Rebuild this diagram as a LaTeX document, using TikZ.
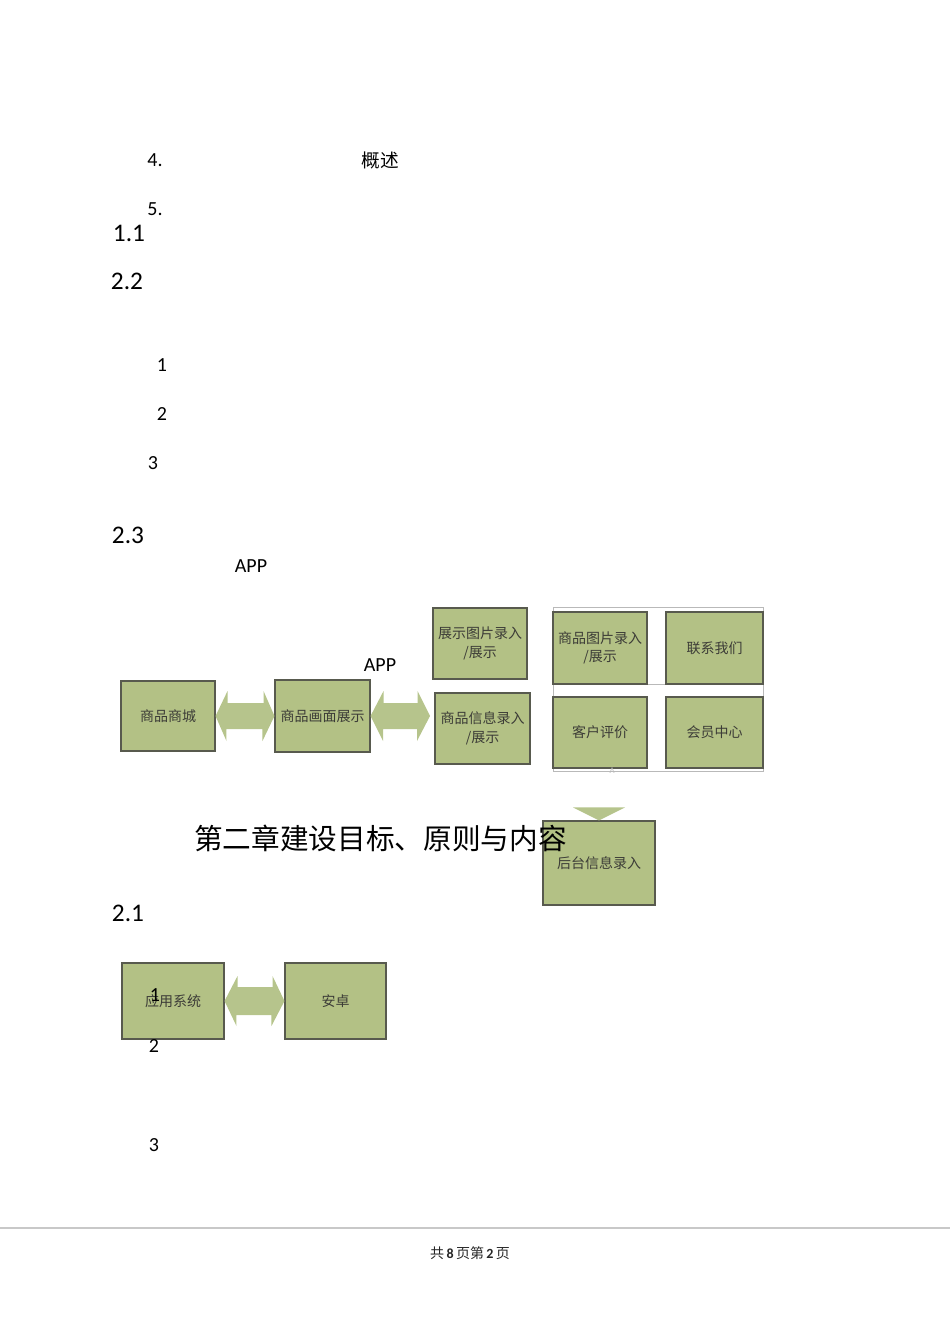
\documentclass[tikz,border=0pt]{standalone}
\usepackage{fontspec}
\setmainfont{Carlito}
\newfontfamily\cjk{Noto Sans CJK SC}
\definecolor{boxgreen}{RGB}{179,193,133}
\definecolor{arrgreen}{RGB}{182,196,140}
\definecolor{boxline}{RGB}{88,90,78}
\definecolor{boxtext}{RGB}{60,60,55}
\definecolor{framegray}{RGB}{185,185,185}
\definecolor{footgray}{RGB}{200,200,200}
\tikzset{
  gbox/.style={draw=boxline, line width=0.8pt, fill=boxgreen, inner sep=0pt, align=center,
    text=boxtext, font=\cjk\fontsize{10.5}{14}\selectfont},
  arr/.style={fill=arrgreen, draw=none},
  small/.style={inner sep=0pt, font=\fontsize{15}{17}\selectfont},
  sec/.style={inner sep=0pt, font=\fontsize{19}{22}\selectfont},
}
\begin{document}
\begin{tikzpicture}[x=0.75pt,y=-0.75pt]
\useasboundingbox (0,0) rectangle (950,1344);
% top text
\node[small] (t4) at (155,160) {4.};
\node[small, font=\cjk\fontsize{14}{16}\selectfont] (tgs) at (380,160) {概述};
\node[small] (t5) at (155,209) {5.};
\node[sec] (s11) at (129,233) {1.1};
\node[sec] (s22) at (127,281) {2.2};
\node[small] (n1) at (162,365) {1};
\node[small] (n2) at (162,414) {2};
\node[small] (n3) at (153,463) {3};
\node[sec] (s23) at (128,535) {2.3};
\node[small] (app1) at (251,566) {APP};
\node[small] (app2) at (380,665) {APP};

% first diagram
\node[gbox, minimum width=70.5pt, minimum height=52.5pt] (mall) at (168,716) {商品商城};
\node[gbox, minimum width=71.25pt, minimum height=54pt] (disp) at (322.5,716) {商品画面展示};
\node[gbox, minimum width=70.5pt, minimum height=53.25pt] (imgin) at (480,643.5) {展示图片录入\\/展示};
\node[gbox, minimum width=71.25pt, minimum height=53.25pt] (infoin) at (482.5,728.5) {商品信息录入\\/展示};

\fill[arr] (mall.east) -- ++(12,-25) -- ++(0,12) -- ++(36,0) -- ++(0,-12) -- (disp.west)
  -- ++(-12,25) -- ++(0,-12) -- ++(-36,0) -- ++(0,12) -- cycle;
\coordinate (a2r) at (430,716);
\fill[arr] (disp.east) -- ++(13,-25) -- ++(0,12) -- ++(34,0) -- ++(0,-12) -- (a2r)
  -- ++(-13,25) -- ++(0,-12) -- ++(-34,0) -- ++(0,12) -- cycle;

% frame with four boxes
\node[draw=framegray, line width=0.6pt, minimum width=157.5pt, minimum height=123pt, inner sep=0pt] (frame) at (658,689) {};
\draw[framegray, line width=0.6pt] (553,684) -- (763,684);
\node[gbox, minimum width=70.5pt, minimum height=54pt] (gimg) at (600,648) {商品图片录入\\/展示};
\node[gbox, minimum width=72.75pt, minimum height=54pt] (contact) at (714.5,648) {联系我们};
\node[gbox, minimum width=70.5pt, minimum height=53.25pt] (review) at (600,732.5) {客户评价};
\node[gbox, minimum width=72.75pt, minimum height=53.25pt] (member) at (714.5,732.5) {会员中心};
\node[inner sep=0pt, text=framegray, font=\fontsize{6.5}{7}\selectfont] (smallA) at (612,771) {A};

% backend box
\node[gbox, minimum width=84pt, minimum height=63pt] (backend) at (599,863) {后台信息录入};
\fill[arr] (backend.north) -- ++(-26,-13) -- ++(52,0) -- cycle;

% heading
\node[inner sep=0pt, anchor=west, font=\cjk\fontsize{21.5}{24}\selectfont] (head) at (194,838) {第二章建设目标、原则与内容};

\node[sec] (s21) at (128,913) {2.1};

% second diagram
\node[gbox, minimum width=76.5pt, minimum height=57pt] (appsys) at (173,1001) {应用系统};
\node[gbox, minimum width=75.75pt, minimum height=57pt] (android) at (335.5,1001) {安卓};
\fill[arr] (appsys.east) -- ++(13,-25) -- ++(0,11) -- ++(35,0) -- ++(0,-11) -- (android.west)
  -- ++(-13,25) -- ++(0,-11) -- ++(-35,0) -- ++(0,11) -- cycle;

\node[small] (m1) at (155,995) {1};
\node[small] (m2) at (154,1046) {2};
\node[small] (m3) at (154,1145) {3};

% footer
\draw[footgray, line width=1pt] (0,1228) -- (950,1228);
\node[inner sep=0pt, font=\fontsize{10.5}{12}\selectfont, text=black!85] (foot) at (470,1253)
  {{\cjk 共}\,\textbf{8}\,{\cjk 页第}\,\textbf{2}\,{\cjk 页}};
\end{tikzpicture}
\end{document}
